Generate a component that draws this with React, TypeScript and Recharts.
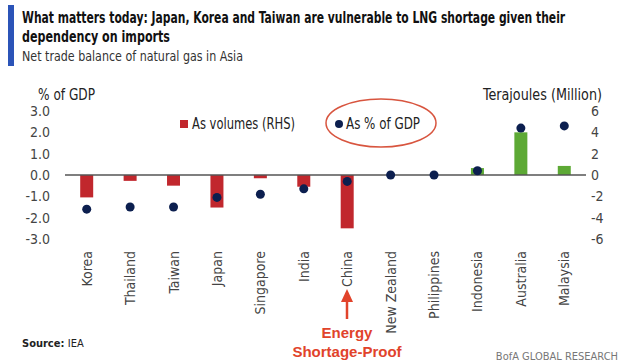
import {
  ComposedChart,
  Bar,
  Line,
  XAxis,
  YAxis,
  ReferenceLine,
  Cell,
} from "recharts";

// Values
const countries = [
  "Korea",
  "Thailand",
  "Taiwan",
  "Japan",
  "Singapore",
  "India",
  "China",
  "New Zealand",
  "Philippines",
  "Indonesia",
  "Australia",
  "Malaysia",
];
// Terajoules (million), right axis
const volumes = [-2.1, -0.55, -1.0, -3.05, -0.3, -1.1, -5.0, 0, 0, 0.65, 4.0, 0.85];
// % of GDP, left axis
const pctGdp = [-1.6, -1.5, -1.5, -1.05, -0.9, -0.65, -0.3, 0, 0, 0.2, 2.2, 2.3];

const leftTicks = [3, 2, 1, 0, -1, -2, -3];
const rightTicks = [6, 4, 2, 0, -2, -4, -6];

const data = countries.map((c, i) => ({
  country: c,
  volume: volumes[i],
  pct: pctGdp[i],
}));

const FONT = "'DejaVu Sans Condensed', 'Liberation Sans', sans-serif";
const RED = "#C1272D";
const GREEN = "#5DA935";
const NAVY = "#0C1F4F";
const TEXT = "#444";

const XTick = ({ x, payload }: any) => (
  <text
    transform={`translate(${x + 5},251) rotate(-90)`}
    textAnchor="end"
    fontSize={14}
    fontFamily={FONT}
    fill={TEXT}
  >
    {payload.value}
  </text>
);

export default function App() {
  return (
    <div
      style={{
        position: "absolute",
        left: 0,
        top: 0,
        width: 623,
        height: 364,
        background: "#fff",
      }}
    >
      <div style={{ position: "absolute", left: 0, top: 0 }}>
        <ComposedChart
          width={623}
          height={364}
          data={data}
          margin={{ top: 111, right: 0, left: 0, bottom: 0 }}
          barCategoryGap="35%"
        >
          <XAxis
            dataKey="country"
            height={125}
            interval={0}
            axisLine={false}
            tickLine={false}
            tick={<XTick />}
          />
          <YAxis
            yAxisId="left"
            domain={[-3, 3]}
            ticks={leftTicks}
            interval={0}
            width={65}
            axisLine={false}
            tickLine={false}
            tickSize={0}
            tickMargin={15}
            tickFormatter={(v: number) => v.toFixed(1)}
            tick={{ fontSize: 14, fill: TEXT, fontFamily: FONT }}
          />
          <YAxis
            yAxisId="right"
            orientation="right"
            domain={[-6, 6]}
            ticks={rightTicks}
            interval={0}
            width={37}
            axisLine={false}
            tickLine={false}
            tickSize={0}
            tickMargin={5}
            tick={{ fontSize: 14, fill: TEXT, fontFamily: FONT }}
          />
          <Bar yAxisId="right" dataKey="volume" isAnimationActive={false}>
            {data.map((d, i) => (
              <Cell key={i} fill={d.volume < 0 ? RED : GREEN} />
            ))}
          </Bar>
          <ReferenceLine yAxisId="left" y={0} stroke="#555" strokeWidth={1.5} />
          <Line
            yAxisId="left"
            dataKey="pct"
            stroke="none"
            strokeWidth={0}
            dot={{ r: 4.5, fill: NAVY, stroke: "none" }}
            activeDot={false}
            isAnimationActive={false}
          />
        </ComposedChart>
      </div>

      {/* title, legend, axis titles, annotations */}
      <svg
        width={623}
        height={364}
        style={{ position: "absolute", left: 0, top: 0, pointerEvents: "none" }}
        fontFamily={FONT}
      >
        <rect x={8} y={5} width={6} height={61} fill="#2B54B8" />
        {/* condensed title: squeeze horizontally to fit one line */}
        <text
          transform="translate(22,23) scale(0.85,1)"
          fontSize={15}
          fontWeight={700}
          fill="#111"
          textLength={639}
          lengthAdjust="spacingAndGlyphs"
        >
          What matters today: Japan, Korea and Taiwan are vulnerable to LNG shortage given their
        </text>
        <text
          x={22}
          y={42}
          fontSize={15}
          fontWeight={700}
          fill="#111"
          textLength={148}
          lengthAdjust="spacingAndGlyphs"
        >
          dependency on imports
        </text>
        <text
          x={22}
          y={61}
          fontSize={14}
          fill="#333"
          textLength={221}
          lengthAdjust="spacingAndGlyphs"
        >
          Net trade balance of natural gas in Asia
        </text>

        <text x={38} y={100} fontSize={15} fill="#222" textLength={57} lengthAdjust="spacingAndGlyphs">
          % of GDP
        </text>
        <text x={483} y={100} fontSize={15} fill="#222" textLength={119} lengthAdjust="spacingAndGlyphs">
          Terajoules (Million)
        </text>

        <rect x={180} y={120} width={8} height={8} fill={RED} />
        <text x={192} y={129} fontSize={15} fill="#222" textLength={103} lengthAdjust="spacingAndGlyphs">
          As volumes (RHS)
        </text>

        <ellipse cx={381} cy={123} rx={55} ry={24} fill="none" stroke="#D8553F" strokeWidth={1.5} />
        <circle cx={339} cy={124} r={4} fill={NAVY} />
        <text x={346} y={129} fontSize={15} fill="#222" textLength={74} lengthAdjust="spacingAndGlyphs">
          As % of GDP
        </text>

        {/* arrow under China */}
        <line x1={347} y1={319} x2={347} y2={300} stroke="#E1432B" strokeWidth={2.5} />
        <polygon points="341,302 353,302 347,289" fill="#E1432B" />
        <text
          x={347}
          y={338}
          fontSize={15}
          fontWeight={700}
          fill="#E1432B"
          textAnchor="middle"
          fontFamily="'Liberation Sans', Arial, sans-serif"
        >
          Energy
        </text>
        <text
          x={347}
          y={357}
          fontSize={15}
          fontWeight={700}
          fill="#E1432B"
          textAnchor="middle"
          fontFamily="'Liberation Sans', Arial, sans-serif"
        >
          Shortage-Proof
        </text>

        <text x={22} y={347} fontSize={11} fill="#222">
          <tspan fontWeight={700}>Source: </tspan>IEA
        </text>
        <text x={618} y={360} fontSize={11} fill="#777" textAnchor="end">
          BofA GLOBAL RESEARCH
        </text>
      </svg>
    </div>
  );
}
